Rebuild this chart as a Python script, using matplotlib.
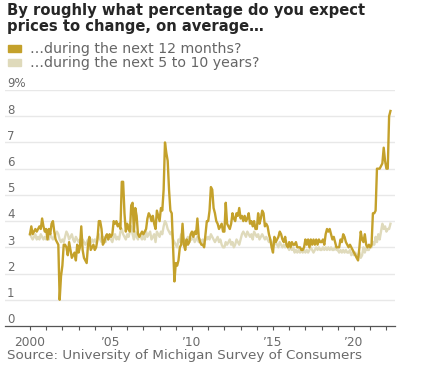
import numpy as np
import matplotlib
matplotlib.use("Agg")
import matplotlib.pyplot as plt
from matplotlib.patches import Rectangle

# monthly values, Jan 2000 - Apr 2022
next_12_months = [
    3.5, 3.8, 3.5, 3.6, 3.7, 3.6, 3.7, 3.8, 3.7, 4.1, 3.8, 3.6,   # 2000
    3.7, 3.3, 3.7, 3.5, 3.9, 4.0, 3.6, 3.3, 3.2, 3.1, 1.0, 1.9,   # 2001
    2.3, 3.1, 3.1, 3.0, 2.7, 3.2, 2.9, 2.6, 2.7, 2.8, 2.5, 3.1,   # 2002
    2.8, 3.0, 3.8, 2.9, 2.6, 2.5, 2.4, 3.1, 3.4, 2.9, 3.0, 3.1,   # 2003
    2.9, 3.0, 3.3, 4.0, 4.0, 3.7, 3.1, 3.2, 3.4, 3.5, 3.3, 3.5,   # 2004
    3.4, 3.5, 4.0, 3.9, 4.0, 3.8, 3.9, 3.7, 5.5, 5.5, 4.3, 3.6,   # 2005
    3.9, 3.7, 3.6, 4.6, 4.7, 3.6, 4.5, 4.2, 3.5, 3.4, 3.5, 3.6,   # 2006
    3.5, 3.6, 3.7, 4.1, 4.3, 4.2, 4.0, 4.2, 3.9, 3.7, 4.4, 4.2,   # 2007
    4.0, 4.5, 4.4, 5.2, 7.0, 6.6, 6.3, 5.2, 4.4, 4.3, 3.0, 1.7,   # 2008
    2.4, 2.3, 2.5, 3.0, 3.1, 3.9, 3.1, 2.9, 3.3, 3.1, 3.2, 3.5,   # 2009
    3.6, 3.4, 3.6, 3.5, 4.1, 3.4, 3.2, 3.1, 3.1, 3.0, 3.5, 4.0,   # 2010
    4.0, 4.4, 5.3, 5.2, 4.5, 4.3, 4.0, 3.9, 3.7, 3.8, 3.9, 3.6,   # 2011
    3.6, 4.7, 3.9, 3.8, 3.7, 3.9, 4.3, 4.1, 4.0, 4.3, 4.2, 4.5,   # 2012
    4.1, 4.2, 4.0, 4.2, 4.0, 4.1, 4.3, 3.9, 4.0, 3.8, 4.0, 3.7,   # 2013
    3.7, 4.3, 3.9, 4.1, 4.4, 4.3, 3.8, 3.9, 3.8, 3.5, 3.3, 3.0,   # 2014
    2.8, 3.4, 3.2, 3.3, 3.4, 3.6, 3.5, 3.3, 3.2, 3.4, 3.1, 3.0,   # 2015
    3.2, 3.0, 3.2, 3.1, 3.1, 3.2, 3.0, 3.0, 3.0, 2.9, 2.9, 3.0,   # 2016
    3.3, 3.1, 3.3, 3.0, 3.3, 3.1, 3.3, 3.1, 3.3, 3.1, 3.3, 3.2,   # 2017
    3.2, 3.3, 3.1, 3.5, 3.7, 3.6, 3.7, 3.5, 3.3, 3.4, 3.2, 3.0,   # 2018
    3.0, 3.0, 3.3, 3.2, 3.5, 3.4, 3.2, 3.1, 3.0, 3.1, 3.0, 2.9,   # 2019
    2.8, 2.7, 2.6, 2.5, 3.0, 3.6, 3.3, 3.2, 3.5, 3.1, 3.0, 3.1,   # 2020
    3.0, 3.1, 4.3, 4.3, 4.4, 6.0, 6.0, 6.0, 6.1, 6.2, 6.8, 6.3,   # 2021
    6.0, 6.0, 8.0, 8.2,                                           # 2022
]

next_5_to_10_years = [
    3.5, 3.4, 3.3, 3.4, 3.5, 3.3, 3.4, 3.3, 3.5, 3.4, 3.3, 3.4,   # 2000
    3.3, 3.4, 3.3, 3.5, 3.4, 3.3, 3.4, 3.5, 3.6, 3.5, 3.3, 3.2,   # 2001
    3.3, 3.2, 3.4, 3.6, 3.5, 3.3, 3.4, 3.5, 3.3, 3.2, 3.4, 3.3,   # 2002
    3.2, 3.3, 3.1, 3.3, 3.2, 3.1, 3.2, 3.3, 3.1, 3.2, 3.3, 3.2,   # 2003
    3.3, 3.2, 3.4, 3.5, 3.3, 3.2, 3.4, 3.3, 3.2, 3.4, 3.3, 3.4,   # 2004
    3.3, 3.2, 3.4, 3.5, 3.3, 3.4, 3.3, 3.6, 3.7, 3.5, 3.4, 3.3,   # 2005
    3.5, 3.4, 3.6, 3.8, 3.5, 3.3, 3.6, 3.4, 3.3, 3.5, 3.4, 3.3,   # 2006
    3.5, 3.3, 3.6, 3.4, 3.5, 3.6, 3.3, 3.4, 3.5, 3.2, 3.6, 3.5,   # 2007
    3.4, 3.6, 3.5, 3.8, 4.0, 3.9, 3.7, 3.6, 3.5, 3.6, 3.3, 3.2,   # 2008
    3.1, 3.0, 3.3, 3.2, 3.5, 3.4, 3.3, 3.1, 3.3, 3.4, 3.2, 3.3,   # 2009
    3.3, 3.4, 3.2, 3.3, 3.4, 3.2, 3.3, 3.2, 3.3, 3.1, 3.4, 3.3,   # 2010
    3.4, 3.3, 3.5, 3.4, 3.3, 3.2, 3.3, 3.4, 3.2, 3.3, 3.1, 3.0,   # 2011
    3.0, 3.2, 3.1, 3.2, 3.3, 3.1, 3.2, 3.0, 3.1, 3.3, 3.2, 3.1,   # 2012
    3.3, 3.5, 3.6, 3.5, 3.4, 3.6, 3.5, 3.4, 3.5, 3.3, 3.6, 3.5,   # 2013
    3.4, 3.5, 3.3, 3.4, 3.5, 3.4, 3.3, 3.4, 3.3, 3.2, 3.3, 3.2,   # 2014
    3.0, 3.1, 3.2, 3.1, 3.0, 3.2, 3.1, 3.0, 3.1, 3.0, 3.1, 3.0,   # 2015
    2.9, 3.0, 2.9, 3.0, 2.8, 2.9, 2.8, 2.9, 2.8, 2.9, 2.8, 2.9,   # 2016
    2.8, 2.9, 2.8, 2.9, 3.0, 2.9, 2.8, 2.9, 3.0, 2.9, 3.0, 2.9,   # 2017
    2.9, 3.0, 2.9, 3.0, 2.9, 3.0, 2.9, 3.0, 2.9, 2.9, 3.0, 2.9,   # 2018
    2.9, 2.8, 2.9, 2.8, 2.9, 2.8, 2.9, 2.8, 2.8, 2.9, 2.7, 2.8,   # 2019
    2.7, 2.8, 2.6, 2.7, 2.8, 2.6, 2.7, 3.0, 2.8, 3.0, 2.9, 2.9,   # 2020
    3.1, 3.0, 3.2, 3.1, 3.4, 3.2, 3.5, 3.3, 3.6, 3.9, 3.7, 3.8,   # 2021
    3.6, 3.7, 3.7, 3.9,                                           # 2022
]

y_ticks = [0, 1, 2, 3, 4, 5, 6, 7, 8, 9]
y_labels = ["0", "1", "2", "3", "4", "5", "6", "7", "8", "9%"]
x_ticks = [2000, 2005, 2010, 2015, 2020]
x_labels = ["2000", "\u201905", "\u201910", "\u201915", "\u201920"]
legend_labels = ["\u2026during the next 12 months?", "\u2026during the next 5 to 10 years?"]

GOLD = "#c4a12b"
BEIGE = "#dfdabb"
GRID = "#e8e8e8"
TEXT = "#6a6a6a"

years = 2000 + np.arange(len(next_12_months)) / 12

fig = plt.figure(figsize=(4.25, 3.69), dpi=100)
ax = fig.add_axes([0.0118, 0.1165, 0.9176, 0.6396])

ax.plot(years, next_5_to_10_years, color=BEIGE, lw=1.7, solid_joinstyle="round")
ax.plot(years, next_12_months, color=GOLD, lw=1.7, solid_joinstyle="round")

ax.set_xlim(1998.46, 2022.53)
ax.set_ylim(0, 9)

for v in y_ticks[1:]:
    ax.axhline(v, color=GRID, lw=1.0, zorder=0)
# value labels sit just above their gridline
for v, lab in zip(y_ticks, y_labels):
    ax.text(0.005, v + 0.1, lab, transform=ax.get_yaxis_transform(),
            fontsize=8.5, color=TEXT, va="baseline", ha="left")

ax.set_yticks([])
ax.set_xticks(x_ticks)
ax.set_xticklabels(x_labels, fontsize=8.8, color=TEXT)
ax.set_xticks(np.arange(2000, 2023), minor=True)
ax.tick_params(axis="x", which="both", direction="out", length=3, width=0.8,
               color="#555555", pad=4)
for side in ["top", "right", "left"]:
    ax.spines[side].set_visible(False)
ax.spines["bottom"].set_color("#555555")
ax.spines["bottom"].set_linewidth(0.9)

# title
fig.text(7 / 425, 1 - 3 / 369,
         "By roughly what percentage do you expect\nprices to change, on average\u2026",
         fontsize=10.6, fontweight="bold", color="#262626", va="top", ha="left",
         linespacing=1.1)

# legend
for i, (lab, col) in enumerate(zip(legend_labels, [GOLD, BEIGE])):
    yc = 48.5 + i * 14
    fig.patches.append(Rectangle((8 / 425, 1 - (yc + 3.5) / 369), 13 / 425, 7 / 369,
                                 transform=fig.transFigure, color=col))
    fig.text(30 / 425, 1 - yc / 369, lab, fontsize=10.2, color="#666666",
             va="center", ha="left")

fig.text(7 / 425, 1 - 356 / 369, "Source: University of Michigan Survey of Consumers",
         fontsize=9.7, color=TEXT, va="center", ha="left")

fig.savefig("out.png", dpi=100)
